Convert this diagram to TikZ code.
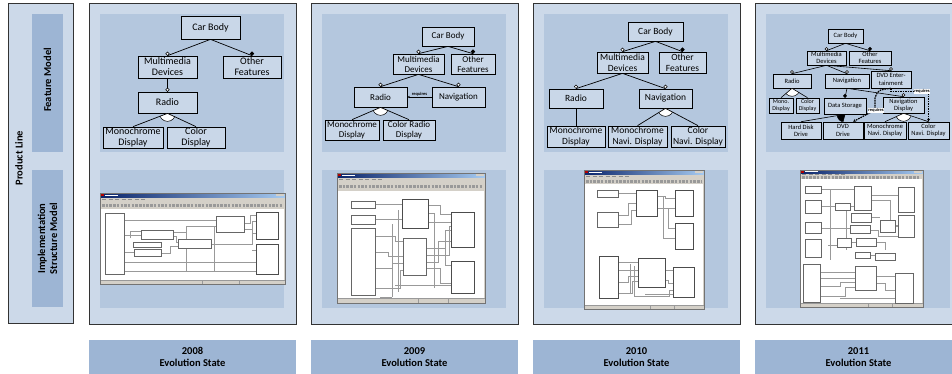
\documentclass[tikz,border=0pt]{standalone}
\usepackage{fontspec}
\setmainfont{Carlito}
\usetikzlibrary{arrows.meta}
\definecolor{panelc}{HTML}{CCD9E9}
\definecolor{innerc}{HTML}{B4C7DE}
\definecolor{stripc}{HTML}{9DB5D4}
\definecolor{nodec}{HTML}{C9D7E8}
\definecolor{titlec}{HTML}{0A246A}
\definecolor{titlec2}{HTML}{A6CAF0}
\definecolor{winc}{HTML}{D4D0C8}
\tikzset{
  panel/.style={fill=panelc, draw=black!80, line width=0.8pt},
  inner/.style={fill=innerc, draw=none},
  strip/.style={fill=stripc, draw=none},
  side/.style={rotate=90, font=\bfseries\fontsize{10.5}{12}\selectfont, align=center},
  evo/.style={font=\bfseries\fontsize{10.5}{12}\selectfont, align=center},
  fmb/.style={draw=black, line width=0.7pt, fill=nodec, inner sep=0.3pt, align=center, anchor=center},
  fml/.style={draw=black, line width=0.7pt},
  opt/.style={circle, draw=black, fill=white, inner sep=0pt, minimum size=3.4pt, line width=0.5pt},
  man/.style={circle, draw=black, fill=black, inner sep=0pt, minimum size=3.4pt},
  reqa/.style={draw=black, line width=0.6pt, dash pattern=on 1.2pt off 0.8pt, -{Stealth[length=2.5pt,width=2.2pt]}},
  reqb/.style={draw=black, line width=1.2pt, dash pattern=on 1.6pt off 0.9pt, -{Stealth[length=3pt,width=3pt]}},
  reql/.style={font=\bfseries\fontsize{4.5}{5}\selectfont, inner sep=0.3pt},
  sblk/.style={draw=black!60, line width=0.4pt, fill=white},
  sthk/.style={draw=black!70, line width=0.6pt, fill=white},
  swire/.style={draw=black!40, line width=0.35pt},
}
\newcommand\fm[7][]{\node[fmb,minimum width={#5-#3},minimum height={#6-#4},#1] (#2) at ({(#3+#5)/2},{(#4+#6)/2}) {#7};}
\newcommand\conopt[2]{\draw[fml] (#1) -- (#2) node[opt,pos=1,anchor=south]{};}
\newcommand\conman[2]{\draw[fml] (#1) -- (#2) node[man,pos=1,anchor=south]{};}
\newcommand\altg[4][white]{%
  \begin{scope}
    \clip (#2) -- (#3) -- (#4) -- cycle;
    \filldraw[fill=#1, draw=black, line width=0.5pt] (#2) circle[radius=8pt];
  \end{scope}
  \draw[fml] (#2) -- (#3) (#2) -- (#4);}
% window: x1 y1 x2 y2 titleBottom menuBottom whiteTop whiteBottom
\newcommand\simwin[8]{%
  \fill[winc] (#1,#2) rectangle (#3,#4);
  \shade[left color=titlec, right color=titlec2] (#1,#2) rectangle (#3,#5);
  \fill[winc] ({#3-9},{#2+0.7}) rectangle ({#3-1},{#5-0.7});
  \draw[white, line width=1pt] ({#1+5},{(#2+#5)/2}) -- ({#1+18},{(#2+#5)/2});
  \fill[red!70!black] ({#1+1},{#2+0.8}) rectangle ({#1+3.5},{#5-0.8});
  \draw[black!45, line width=0.9pt, dash pattern=on 4pt off 2.5pt] ({#1+2},{(#5+#6)/2}) -- ({#1+45},{(#5+#6)/2});
  \draw[black!40, line width=3pt, dash pattern=on 2.5pt off 1.2pt] ({#1+2},{(#6+#7)/2}) -- ({#3-3},{(#6+#7)/2});
  \fill[white] ({#1+1},#7) rectangle ({#3-1},#8);
  \draw[black!40, line width=0.3pt] (#1,#8) -- (#3,#8);
  \draw[black!40, line width=0.3pt] ({#1+(#3-#1)*0.55},#8) -- ({#1+(#3-#1)*0.55},#4)
        ({#1+(#3-#1)*0.75},#8) -- ({#1+(#3-#1)*0.75},#4);
  \draw[black!55, line width=0.4pt] (#1,#2) rectangle (#3,#4);}
\begin{document}
\begin{tikzpicture}[x=1pt,y=-1pt]
\useasboundingbox (0,0) rectangle (952,373);
\clip (0,0) rectangle (952,373);
% ---------- left column
\draw[panel] (8,3) rectangle (73,323);
\fill[strip] (32,14) rectangle (63,152);
\fill[strip] (32,170) rectangle (63,307);
\node[side] (pl) at (19,158) {Product Line};
\node[side] (fmlab) at (47.5,80) {Feature Model};
\node[side] (ismlab) at (47.5,238.5) {Implementation\\Structure Model};
% ---------- panels
\foreach \x/\yr in {89/2008,311/2009,533/2010,755/2011}{
  \draw[panel] (\x,3) rectangle ({\x+207},324);
  \fill[inner] ({\x+11},14) rectangle ({\x+195},152);
  \fill[inner] ({\x+11},170) rectangle ({\x+195},308);
  \fill[strip] (\x,340) rectangle ({\x+207},380);
  \node[evo] (evo\yr) at ({\x+103.5},357) {\yr\\Evolution State};
}
% ---------- 2008 feature model
\begin{scope}[fmb/.append style={font=\fontsize{10}{11}\selectfont}]
\fm{a1}{181}{16}{240}{39}{Car Body}
\fm{a2}{138}{56}{197}{78}{Multimedia\\Devices}
\fm{a3}{223}{56}{281}{78}{Other\\Features}
\fm{a4}{138}{92}{197}{113}{Radio}
\fm{a5}{103}{127}{163}{148}{Monochrome\\Display}
\fm{a6}{167}{127}{225}{148}{Color\\Display}
\end{scope}
\conopt{a1.south}{a2.north}
\conman{a1.south}{a3.north}
\conopt{a2.south}{a4.north}
\altg{a4.south}{a5.north}{a6.north}
% ---------- 2009 feature model
\begin{scope}[fmb/.append style={font=\fontsize{9}{10}\selectfont}]
\fm{b1}{422}{27}{474}{46}{Car Body}
\fm{b2}{393}{54}{444}{74}{Multimedia\\Devices}
\fm{b3}{451}{54}{495}{74}{Other\\Features}
\fm{b4}{354}{87}{407}{107}{Radio}
\fm{b5}{432}{87}{485}{107}{Navigation}
\fm{b6}{325}{120}{379}{140}{Monochrome\\Display}
\fm{b7}{383}{120}{435}{140}{Color Radio\\Display}
\end{scope}
\conopt{b1.south}{b2.north}
\conman{b1.south}{b3.north}
\conopt{b2.south}{b4.north}
\conopt{b2.south}{b5.north}
\altg{b4.south}{b6.north}{b7.north}
\draw[reqa] (b5.west) -- (b4.east) node[reql, midway, above=0.2pt] (rq1) {requires};
% ---------- 2010 feature model
\begin{scope}[fmb/.append style={font=\fontsize{9.5}{10.5}\selectfont}]
\fm{c1}{628}{22}{683}{41}{Car Body}
\fm{c2}{597}{52}{648}{73}{Multimedia\\Devices}
\fm{c3}{659}{52}{706}{73}{Other\\Features}
\fm{c4}{549}{89}{603}{108}{Radio}
\fm{c5}{639}{89}{692}{108}{Navigation}
\fm{c6}{547}{126}{605}{147}{Monochrome\\Display}
\fm{c7}{608}{126}{667}{147}{Monochrome\\Navi. Display}
\fm{c8}{671}{126}{725}{147}{Color\\Navi. Display}
\end{scope}
\conopt{c1.south}{c2.north}
\conman{c1.south}{c3.north}
\conopt{c2.south}{c4.north}
\conopt{c2.south}{c5.north}
\draw[fml] (c4.south) -- (c6.north);
\altg{c5.south}{c7.north}{c8.north}
% ---------- 2011 feature model
\begin{scope}[fmb/.append style={font=\fontsize{6.5}{7.2}\selectfont, line width=0.6pt, inner sep=0pt},
  opt/.append style={minimum size=3pt}, man/.append style={minimum size=3pt}, fml/.append style={line width=0.6pt}]
\fm{d1}{828}{29}{863}{43}{Car Body}
\fm{d2}{807}{51}{846}{65}{Multimedia\\Devices}
\fm{d3}{849}{51}{891}{65}{Other\\Features}
\fm{d4}{773}{74}{811}{88}{Radio}
\fm{d5}{825}{74}{869}{88}{Navigation}
\fm{d6}{871}{71}{911}{88}{DVD Enter-\\tainment}
\fm[font=\fontsize{6}{6.8}\selectfont]{d7}{769}{98}{793}{113}{Mono.\\Display}
\fm[font=\fontsize{6}{6.8}\selectfont]{d8}{796}{98}{819}{113}{Color\\Display}
\fm{d9}{824}{98}{866}{114}{Data Storage}
\fm{d10}{883}{97}{924}{113}{Navigation\\Display}
\fm{d11}{781}{122}{821}{139}{Hard Disk\\Drive}
\fm{d12}{823}{122}{863}{139}{DVD\\Drive}
\fm{d13}{864}{122}{906}{139}{Monochrome\\Navi. Display}
\fm{d14}{908}{122}{949}{139}{Color\\Navi. Display}
\conopt{d1.south}{d2.north}
\conman{d1.south}{d3.north}
\conopt{d2.south}{d4.north}
\conopt{d2.south}{d5.north}
\conopt{d2.south}{d6.north}
\altg{d4.south}{d7.north}{d8.north}
\conman{d5.south}{d9.north}
\conopt{d5.south}{d10.north}
\altg[black]{d9.south}{d11.north}{d12.north}
\altg{d10.south}{d13.north}{d14.north}
\draw[reqb] (d6.south) .. controls (878,90) .. (875,98) -- (875,110) -- ([xshift=10pt]d12.north);
\node[reql, fill=white] (rq2) at (876,110.5) {requires};
\draw[reqb] (d6.south) -- ++(0,3.5) -| (d14.north);
\node[reql, fill=white] (rq3) at (922,91.5) {requires};
\end{scope}
% ---------- 2008 implementation screenshot
\simwin{100}{193}{285}{284}{197}{201}{209}{280}
\begin{scope}
\draw[swire] (124,220)--(216,220) (124,235)--(141,235) (173,232)--(186,232)--(186,226)--(216,226)
  (173,236)--(176,236)--(176,242)--(178,242) (124,252)--(134,252) (161,253)--(170,253)--(170,246)--(178,246)
  (211,244)--(252,244)--(252,221)--(256,221) (244,223)--(250,223)--(250,215)--(256,215)
  (124,262)--(256,262) (124,271)--(256,271) (186,232)--(186,271) (214,226)--(214,271)
  (252,233)--(256,233) (252,250)--(256,250) (118,258)--(118,262) (130,238)--(130,231)--(141,231)
  (244,229)--(252,229);
\draw[sblk] (105,213) rectangle (124,274);
\draw[sblk] (141,230) rectangle (173,239);
\draw[sblk] (133,242) rectangle (161,247);
\draw[sblk] (134,249) rectangle (161,256);
\draw[sblk] (178,239) rectangle (211,248);
\draw[sblk] (216,216) rectangle (244,232);
\draw[sthk] (256,212) rectangle (278,239);
\draw[sthk] (256,244) rectangle (278,274);
\end{scope}
% ---------- 2009 implementation screenshot
\simwin{337}{173}{485}{303}{177}{182}{191}{298}
\begin{scope}
\draw[swire] (375,204)--(402,204) (375,219)--(402,219) (375,236)--(395,236)--(395,241)--(403,241)
  (375,252)--(388,252)--(388,256)--(403,256) (375,268)--(392,268)--(392,263)--(403,263)
  (375,288)--(400,288)--(400,270)--(403,270) (428,205)--(440,205)--(440,214)--(451,214)
  (428,222)--(451,222) (426,248)--(445,248)--(445,230)--(451,230) (426,262)--(438,262)--(438,241)--(451,241)
  (426,268)--(440,268)--(440,283)--(451,283) (395,285)--(451,285) (445,248)--(445,265)--(451,265)
  (392,224)--(392,297) (380,297)--(392,297) (398,210)--(398,292) (428,213)--(434,213)--(434,288)
  (426,255)--(449,255)--(449,226)--(451,226);
\draw[sblk] (351,201) rectangle (375,208);
\draw[sblk] (351,215) rectangle (375,224);
\draw[sblk] (351,228) rectangle (375,295);
\draw[sthk] (402,199) rectangle (428,228);
\draw[sblk] (403,238) rectangle (426,275);
\draw[sthk] (451,212) rectangle (474,247);
\draw[sthk] (451,261) rectangle (474,293);
\end{scope}
% ---------- 2010 implementation screenshot
\simwin{584}{170}{704}{309}{174}{178}{184}{305}
\begin{scope}
\draw[swire] (618,193)--(636,193) (618,215)--(628,215)--(628,203)--(636,203) (618,224)--(631,224)--(631,210)--(636,210)
  (657,196)--(665,196)--(665,198)--(675,198) (657,208)--(675,208) (663,196)--(663,238)--(675,238)
  (668,208)--(668,228)--(675,228) (618,262)--(638,262) (618,270)--(638,270)
  (618,282)--(628,282)--(628,276)--(638,276) (618,293)--(632,293)--(632,281)--(638,281)
  (665,270)--(673,270) (665,280)--(668,280)--(668,283)--(673,283) (630,264)--(630,294)
  (645,294)--(673,294) (634,266)--(634,296)--(669,296)--(669,290)--(673,290);
\draw[sblk] (597,190) rectangle (618,197);
\draw[sblk] (597,212) rectangle (618,227);
\draw[sthk] (636,190) rectangle (657,216);
\draw[sthk] (675,190) rectangle (693,216);
\draw[sthk] (675,223) rectangle (693,249);
\draw[sthk] (599,256) rectangle (618,298);
\draw[sthk] (638,258) rectangle (665,287);
\draw[sthk] (673,267) rectangle (694,297);
\end{scope}
% ---------- 2011 implementation screenshot
\simwin{800}{170}{923}{307}{173.5}{176}{179}{303}
\begin{scope}
\draw[swire] (821,189)--(854,189) (821,206)--(835,206) (850,206)--(854,206) (821,228)--(850,228)
  (871,195)--(898,195) (871,200)--(890,200)--(890,225)--(898,225) (871,217)--(880,217)
  (851,242)--(856,242) (876,242)--(885,242)--(885,250) (870,255)--(875,255) (895,226)--(898,226)
  (820,272)--(855,272) (820,278)--(855,278) (820,286)--(840,286)--(840,282)--(855,282)
  (820,296)--(845,296)--(845,287)--(855,287) (876,276)--(895,276) (876,283)--(885,283)--(885,290)--(895,290)
  (840,298)--(895,298) (830,190)--(830,260) (846,206)--(846,250) (828,245)--(837,245)
  (871,230)--(878,230)--(878,236)--(900,236);
\draw[sblk] (805,186) rectangle (821,193);
\draw[sblk] (805,200) rectangle (821,213);
\draw[sblk] (805,222) rectangle (821,233);
\draw[sblk] (805,239) rectangle (821,257);
\draw[sblk] (803,264) rectangle (820,302);
\draw[sblk] (854,186) rectangle (871,210);
\draw[sblk] (835,203) rectangle (850,210);
\draw[sblk] (851,213) rectangle (871,222);
\draw[sblk] (850,225) rectangle (870,233);
\draw[sblk] (837,238) rectangle (851,247);
\draw[sblk] (856,238) rectangle (876,246);
\draw[sblk] (855,252) rectangle (870,258);
\draw[sblk] (875,253) rectangle (895,260);
\draw[sblk] (880,220) rectangle (895,232);
\draw[sblk] (898,187) rectangle (914,212);
\draw[sblk] (898,215) rectangle (914,237);
\draw[sblk] (855,266) rectangle (876,290);
\draw[sblk] (895,273) rectangle (913,303);
\end{scope}
\end{tikzpicture}
\end{document}
